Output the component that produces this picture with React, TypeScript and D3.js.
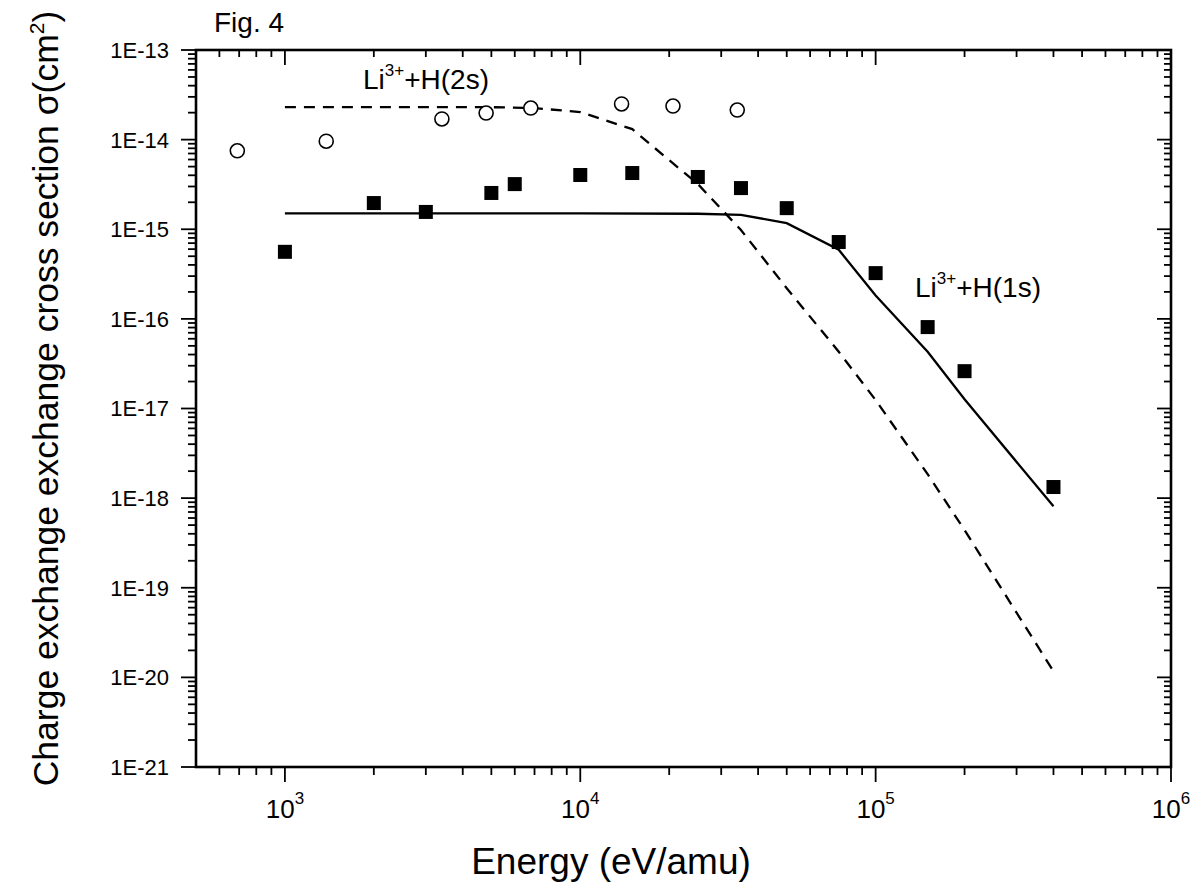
import React from "react";
import * as d3 from "d3";

// ---- data ----
const yTickLabels = ["1E-13", "1E-14", "1E-15", "1E-16", "1E-17", "1E-18", "1E-19", "1E-20", "1E-21"];
const yTickValues = [1e-13, 1e-14, 1e-15, 1e-16, 1e-17, 1e-18, 1e-19, 1e-20, 1e-21];
const xTickValues = [1e3, 1e4, 1e5, 1e6];
const xTickExponents = ["3", "4", "5", "6"];

// Li3+ + H(2s) experiment (open circles)
const h2sExpEnergy = [690, 1380, 3400, 4800, 6800, 13800, 20600, 34000];
const h2sExpSigma = [7.5e-15, 9.6e-15, 1.7e-14, 1.98e-14, 2.25e-14, 2.5e-14, 2.37e-14, 2.14e-14];

// Li3+ + H(1s) experiment (filled squares)
const h1sExpEnergy = [1000, 2000, 3000, 5000, 6000, 10000, 15000, 25000, 35000, 50000, 75000, 100000, 150000, 200000, 400000];
const h1sExpSigma = [5.6e-16, 1.96e-15, 1.56e-15, 2.54e-15, 3.19e-15, 4.03e-15, 4.24e-15, 3.83e-15, 2.88e-15, 1.72e-15, 7.2e-16, 3.24e-16, 8.1e-17, 2.61e-17, 1.33e-18];

// Li3+ + H(1s) theory (solid line)
const h1sThEnergy = [1000, 10000, 25000, 35000, 50000, 75000, 100000, 150000, 200000, 400000];
const h1sThSigma = [1.5e-15, 1.5e-15, 1.49e-15, 1.45e-15, 1.17e-15, 5.9e-16, 1.82e-16, 4.3e-17, 1.27e-17, 8.1e-19];

// Li3+ + H(2s) theory (dashed line)
const h2sThEnergy = [1000, 5000, 7000, 10000, 15000, 20000, 25000, 35000, 50000, 75000, 100000, 150000, 200000, 400000];
const h2sThSigma = [2.3e-14, 2.3e-14, 2.25e-14, 2.03e-14, 1.31e-14, 5.9e-15, 3.2e-15, 9.8e-16, 2.2e-16, 4.3e-17, 1.24e-17, 1.85e-18, 4.4e-19, 1.17e-20];

const W = 1204;
const H = 890;
const L = 196, R = 1171, T = 50, B = 767;
const FONT = "'Liberation Sans', Arial, Helvetica, sans-serif";

export default function App() {
  const x = d3.scaleLog().domain([500, 1e6]).range([L, R]);
  const y = d3.scaleLog().domain([1e-21, 1e-13]).range([B, T]);

  const line = d3
    .line<[number, number]>()
    .x((d) => x(d[0]))
    .y((d) => y(d[1]));

  const zip = (a: number[], b: number[]) => a.map((v, i) => [v, b[i]] as [number, number]);

  // minor ticks
  const xMinor: number[] = [];
  for (let dec = 2; dec <= 5; dec++) {
    for (let m = 2; m <= 9; m++) {
      const v = m * Math.pow(10, dec);
      if (v > 500 && v < 1e6) xMinor.push(v);
    }
  }
  const yMinor: number[] = [];
  for (let dec = -21; dec < -13; dec++) {
    for (let m = 2; m <= 9; m++) yMinor.push(m * Math.pow(10, dec));
  }

  const tickStroke = { stroke: "#000", strokeWidth: 1.8 };

  return (
    <svg
      width={W}
      height={H}
      style={{ position: "absolute", left: 0, top: 0, background: "#fff" }}
      fontFamily={FONT}
    >
      <rect x={0} y={0} width={W} height={H} fill="#fff" />

      {/* ticks: left (outward) */}
      {yTickValues.map((v, i) => (
        <line key={"yl" + i} x1={L - 15} x2={L} y1={y(v)} y2={y(v)} {...tickStroke} />
      ))}
      {yMinor.map((v, i) => (
        <line key={"ylm" + i} x1={L - 8} x2={L} y1={y(v)} y2={y(v)} {...tickStroke} />
      ))}
      {/* right (inward) */}
      {yTickValues.map((v, i) => (
        <line key={"yr" + i} x1={R - 14} x2={R} y1={y(v)} y2={y(v)} {...tickStroke} />
      ))}
      {yMinor.map((v, i) => (
        <line key={"yrm" + i} x1={R - 7} x2={R} y1={y(v)} y2={y(v)} {...tickStroke} />
      ))}
      {/* bottom (outward) */}
      {xTickValues.map((v, i) => (
        <line key={"xb" + i} x1={x(v)} x2={x(v)} y1={B} y2={B + 15} {...tickStroke} />
      ))}
      {xMinor.map((v, i) => (
        <line key={"xbm" + i} x1={x(v)} x2={x(v)} y1={B} y2={B + 8} {...tickStroke} />
      ))}
      {/* top (inward) */}
      {xTickValues.map((v, i) => (
        <line key={"xt" + i} x1={x(v)} x2={x(v)} y1={T} y2={T + 15} {...tickStroke} />
      ))}
      {xMinor.map((v, i) => (
        <line key={"xtm" + i} x1={x(v)} x2={x(v)} y1={T} y2={T + 7} {...tickStroke} />
      ))}

      {/* frame */}
      <rect x={L} y={T} width={R - L} height={B - T} fill="none" stroke="#000" strokeWidth={2.6} />

      {/* y tick labels */}
      {yTickValues.map((v, i) => (
        <text
          key={"ytl" + i}
          x={169}
          y={y(v)}
          dy="0.36em"
          textAnchor="end"
          fontSize={22}
          fill="#000"
        >
          {yTickLabels[i]}
        </text>
      ))}

      {/* x tick labels */}
      {xTickValues.map((v, i) => (
        <text key={"xtl" + i} x={x(v)} y={818} textAnchor="middle" fontSize={26} fill="#000">
          10
          <tspan dy={-14} fontSize={17}>
            {xTickExponents[i]}
          </tspan>
        </text>
      ))}

      {/* theory lines */}
      <path d={line(zip(h1sThEnergy, h1sThSigma)) || ""} fill="none" stroke="#000" strokeWidth={2.3} />
      <path
        d={line(zip(h2sThEnergy, h2sThSigma)) || ""}
        fill="none"
        stroke="#000"
        strokeWidth={2.3}
        strokeDasharray="11 8"
      />

      {/* experimental points */}
      {h2sExpEnergy.map((e, i) => (
        <circle key={"c" + i} cx={x(e)} cy={y(h2sExpSigma[i])} r={7} fill="#fff" stroke="#000" strokeWidth={1.6} />
      ))}
      {h1sExpEnergy.map((e, i) => (
        <rect key={"s" + i} x={x(e) - 7} y={y(h1sExpSigma[i]) - 7} width={14} height={14} fill="#000" />
      ))}

      {/* annotations */}
      <text x={363} y={89} fontSize={28} fill="#000">
        Li
        <tspan dy={-13} fontSize={17}>3+</tspan>
        <tspan dy={13}>+H(2s)</tspan>
      </text>
      <text x={915} y={297} fontSize={28} fill="#000">
        Li
        <tspan dy={-13} fontSize={17}>3+</tspan>
        <tspan dy={13}>+H(1s)</tspan>
      </text>

      <text x={214} y={32} fontSize={28} fill="#000">
        Fig. 4
      </text>

      {/* axis titles */}
      <text x={611} y={874} textAnchor="middle" fontSize={37} fill="#000">
        Energy (eV/amu)
      </text>
      <text
        transform={`translate(58, ${(T + B) / 2 - 10}) rotate(-90)`}
        textAnchor="middle"
        fontSize={35.5}
        fill="#000"
      >
        Charge exchange exchange cross section σ(cm
        <tspan dy={-14} fontSize={21}>2</tspan>
        <tspan dy={14}>)</tspan>
      </text>
    </svg>
  );
}
